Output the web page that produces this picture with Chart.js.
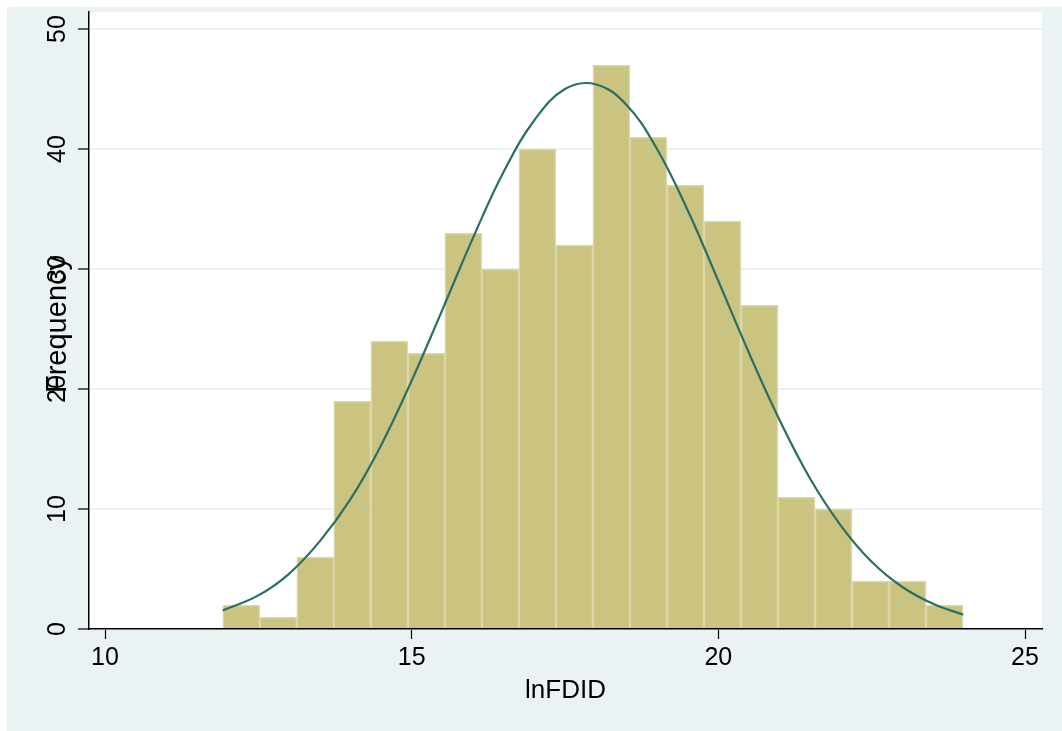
<!DOCTYPE html>
<html>
<head>
<meta charset="utf-8">
<script src="https://cdn.jsdelivr.net/npm/chart.js@4.4.1/dist/chart.umd.min.js"></script>
<style>
  html, body { margin: 0; padding: 0; background: #ffffff; }
  #grafico { display: block; }
</style>
</head>
<body>
<canvas id="grafico" width="1062" height="731"></canvas>
<script>
// Datos del histograma
const binCenters = [12.222, 12.825, 13.429, 14.032, 14.636, 15.239, 15.843, 16.446, 17.050, 17.653,
                    18.257, 18.860, 19.464, 20.067, 20.671, 21.274, 21.878, 22.481, 23.085, 23.688];
const counts = [2, 1, 6, 19, 24, 23, 33, 30, 40, 32, 47, 41, 37, 34, 27, 11, 10, 4, 4, 2];

// Curva normal superpuesta (puntos leídos)
const curveX = [11.92, 12.5, 13, 13.5, 14, 14.5, 15, 15.5, 16, 16.5, 17, 17.5, 18,
                18.5, 19, 19.5, 20, 20.5, 21, 21.5, 22, 22.5, 23, 23.5, 23.99];
const curveY = [1.55, 2.8, 4.6, 7.3, 10.8, 15.3, 20.7, 26.6, 32.6, 38.1, 42.4, 45.0, 45.4,
                43.7, 40.0, 34.9, 29.0, 23.0, 17.4, 12.5, 8.6, 5.6, 3.5, 2.1, 1.2];

const xTicks = [10, 15, 20, 25];
const yTicks = [0, 10, 20, 30, 40, 50];
const xTitle = 'lnFDID';
const yTitle = 'Frequency';

const fuente = '"Liberation Sans", Arial, Helvetica, sans-serif';

// Fondo estilo Stata
const fondoPlugin = {
  id: 'fondo',
  beforeDraw(chart) {
    const { ctx, chartArea } = chart;
    ctx.save();
    ctx.fillStyle = '#ffffff';
    ctx.fillRect(0, 0, chart.width, chart.height);
    ctx.fillStyle = '#eaf2f3';
    ctx.fillRect(7, 7, chart.width - 7, chart.height - 7);
    ctx.fillStyle = '#ffffff';
    ctx.fillRect(chartArea.left, chartArea.top, chartArea.right - chartArea.left, chartArea.bottom - chartArea.top);
    ctx.restore();
  }
};

// Etiquetas del eje Y rotadas y títulos
const textosPlugin = {
  id: 'textos',
  afterDraw(chart) {
    const { ctx, chartArea } = chart;
    const yScale = chart.scales.y;
    ctx.save();
    ctx.fillStyle = '#000000';
    ctx.font = '25px ' + fuente;
    ctx.textAlign = 'center';
    ctx.textBaseline = 'alphabetic';
    yTicks.forEach(v => {
      const py = yScale.getPixelForValue(v);
      ctx.save();
      ctx.translate(65, py);
      ctx.rotate(-Math.PI / 2);
      ctx.fillText(String(v), 0, 0);
      ctx.restore();
    });

    // Título eje Y
    ctx.font = '29px ' + fuente;
    ctx.save();
    ctx.translate(66, (chartArea.top + chartArea.bottom) / 2 + 4);
    ctx.rotate(-Math.PI / 2);
    ctx.fillText(yTitle, 0, 0);
    ctx.restore();

    // Título eje X
    ctx.font = '26px ' + fuente;
    ctx.fillText(xTitle, (chartArea.left + chartArea.right) / 2, 698);
    ctx.restore();
  }
};

const ctx = document.getElementById('grafico').getContext('2d');
new Chart(ctx, {
  type: 'bar',
  data: {
    datasets: [
      {
        type: 'bar',
        label: 'Frequency',
        data: binCenters.map((x, i) => ({ x: x, y: counts[i] })),
        backgroundColor: '#cbc481',
        borderColor: '#dcd7a6',
        borderWidth: 1.5,
        borderSkipped: 'bottom',
        barPercentage: 1,
        categoryPercentage: 1,
        order: 2
      },
      {
        type: 'line',
        label: 'Normal',
        data: curveX.map((x, i) => ({ x: x, y: curveY[i] })),
        borderColor: '#2a6f66',
        borderWidth: 2.2,
        pointRadius: 0,
        fill: false,
        tension: 0.4,
        order: 1
      }
    ]
  },
  options: {
    responsive: false,
    animation: false,
    devicePixelRatio: 1,
    layout: { padding: { left: 0, top: 12, right: 20, bottom: 0 } },
    plugins: {
      legend: { display: false },
      tooltip: { enabled: false }
    },
    scales: {
      x: {
        type: 'linear',
        min: 9.739,
        max: 25.277,
        offset: false,
        afterBuildTicks: scale => { scale.ticks = xTicks.map(v => ({ value: v })); },
        afterFit: scale => { scale.height = 102; },
        grid: {
          offset: false,
          drawOnChartArea: false,
          drawTicks: true,
          tickLength: 10,
          tickColor: '#000000',
          tickWidth: 1.2
        },
        border: { display: true, color: '#000000', width: 1.5 },
        ticks: {
          color: '#000000',
          font: { size: 25, family: fuente },
          padding: 4,
          maxRotation: 0
        }
      },
      y: {
        type: 'linear',
        min: 0,
        max: 51.42,
        afterBuildTicks: scale => { scale.ticks = yTicks.map(v => ({ value: v })); },
        afterFit: scale => { scale.width = 89; },
        grid: {
          color: '#eaf2f3',
          lineWidth: 2,
          drawTicks: true,
          tickLength: 11,
          tickColor: '#000000',
          tickWidth: 1.2
        },
        border: { display: true, color: '#000000', width: 1.5 },
        ticks: { display: false }
      }
    }
  },
  plugins: [fondoPlugin, textosPlugin]
});
</script>
</body>
</html>
